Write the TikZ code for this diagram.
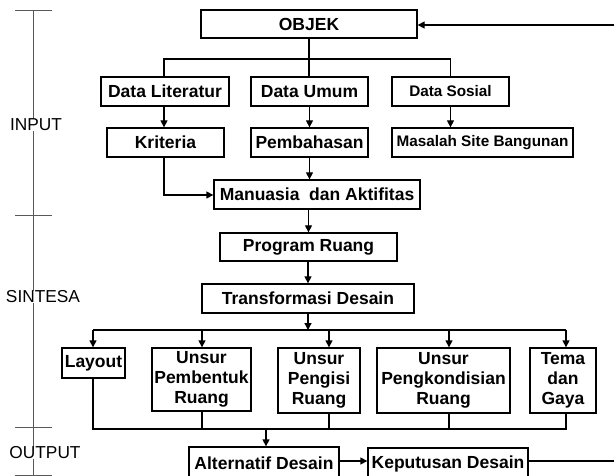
\documentclass[tikz,border=0pt]{standalone}
\usepackage{fontspec}
\setmainfont{Liberation Sans}
\usetikzlibrary{arrows.meta}
\tikzset{
  box/.style={draw=black, line width=1.3pt, inner sep=0pt, align=center,
    font=\fontsize{17.5}{20}\selectfont\bfseries},
  smallbox/.style={box, font=\fontsize{15.3}{18}\selectfont\bfseries},
  conn/.style={draw=black, line width=1.3pt},
  arr/.style={conn, -{Triangle[length=7pt,width=7pt]}},
  scaleline/.style={draw=black!65, line width=0.8pt},
  stage/.style={inner sep=0pt, font=\fontsize{17.3}{20}\selectfont}
}
\begin{document}
\begin{tikzpicture}[x=1pt,y=-1pt]
\clip (0,0) rectangle (614,476);
% stage scale
\coordinate (s0) at (33,10);
\coordinate (s3) at (33,476);
\draw[scaleline] (s0) -- (s3);
\foreach \yy in {10,215,427,475}{
  \draw[scaleline] (15,\yy) -- (52,\yy);
}
\node[stage, fill=white] (inp) at (36,125) {INPUT};
\node[stage, fill=white] (sin) at (43,297) {SINTESA};
\node[stage, fill=white] (out) at (45,453) {OUTPUT};
% boxes
\node[box, minimum width=216, minimum height=28] (objek) at (309,24) {OBJEK};
\node[box, minimum width=128, minimum height=29] (dlit) at (165,91.5) {Data Literatur};
\node[box, minimum width=117, minimum height=29] (dum) at (309.5,91.5) {Data Umum};
\node[smallbox, minimum width=117, minimum height=29] (dsos) at (450.5,91.5) {Data Sosial};
\node[box, minimum width=117, minimum height=29] (krit) at (165.5,142.5) {Kriteria};
\node[box, minimum width=117, minimum height=29] (pemb) at (309.5,142.5) {Pembahasan};
\node[smallbox, minimum width=181, minimum height=29] (masa) at (482.5,142.5) {Masalah Site Bangunan};
\node[box, minimum width=206, minimum height=29] (manu) at (317,194.5) {Manuasia\ \ dan Aktifitas};
\node[box, minimum width=177, minimum height=28] (prog) at (308.5,247) {Program Ruang};
\node[box, minimum width=212, minimum height=29] (trans) at (308,298.5) {Transformasi Desain};
\node[box, minimum width=63, minimum height=30] (lay) at (93.5,363) {Layout};
\node[box, minimum width=99, minimum height=63] (pbtk) at (201.5,379.5) {Unsur\\Pembentuk\\Ruang};
\node[box, minimum width=82, minimum height=65] (pngs) at (319,380.5) {Unsur\\Pengisi\\Ruang};
\node[box, minimum width=133, minimum height=65] (pkon) at (443.5,380.5) {Unsur\\Pengkondisian\\Ruang};
\node[box, minimum width=66, minimum height=65] (tema) at (563,380.5) {Tema\\dan\\Gaya};
\node[box, minimum width=150, minimum height=32] (alt) at (264,463) {Alternatif Desain};
\node[box, minimum width=160, minimum height=31] (kep) at (448,463.5) {Keputusan Desain};
% top branch
\coordinate (bL) at (164,59);
\coordinate (bR) at (450.5,59);
\draw[conn] (objek.south) -- (objek.south |- dum.north);
\draw[conn] (dlit.north -| bL) -- (bL) -- (bR) -- (dsos.north);
\draw[arr] (dlit.south -| bL) -- (krit.north -| bL);
\draw[arr] (dum.south) -- (pemb.north);
\draw[arr] (dsos.south) -- (dsos.south |- masa.north);
\coordinate (kc) at (164,195);
\draw[arr] (krit.south -| kc) -- (kc) -- (manu.west |- kc);
\draw[arr] (pemb.south) -- (pemb.south |- manu.north);
\draw[arr] (prog.north |- manu.south) -- (prog.north);
\draw[arr] (trans.north |- prog.south) -- (trans.north);
% distribution bus
\coordinate (t0) at (308,330);
\coordinate (t1) at (93,330);
\coordinate (t2) at (202,330);
\coordinate (t3) at (329,330);
\coordinate (t4) at (449,330);
\coordinate (t5) at (566,330);
\draw[arr] (trans.south) -- (t0);
\draw[conn] (t1) -- (t5);
\draw[arr] (t1) -- (t1 |- lay.north);
\draw[arr] (t2) -- (t2 |- pbtk.north);
\draw[arr] (t3) -- (t3 |- pngs.north);
\draw[arr] (t4) -- (t4 |- pkon.north);
\draw[arr] (t5) -- (t5 |- tema.north);
% collector bus
\coordinate (c1) at (93,429);
\coordinate (c2) at (202,429);
\coordinate (c3) at (329,429);
\coordinate (c4) at (449,429);
\coordinate (c5) at (566,429);
\coordinate (c0) at (266,429);
\draw[conn] (lay.south -| c1) -- (c1) -- (c5) -- (tema.south -| c5);
\draw[conn] (pbtk.south -| c2) -- (c2);
\draw[conn] (pngs.south -| c3) -- (c3);
\draw[conn] (pkon.south -| c4) -- (c4);
\draw[arr] (c0) -- (c0 |- alt.north);
% output
\coordinate (ay) at (0,461);
\draw[arr] (alt.east |- ay) -- (kep.west |- ay);
\coordinate (fb1) at (615,461);
\coordinate (fb2) at (615,25);
\draw[conn] (kep.east |- ay) -- (fb1);
\draw[arr] (fb2) -- (objek.east |- fb2);
\end{tikzpicture}
\end{document}
